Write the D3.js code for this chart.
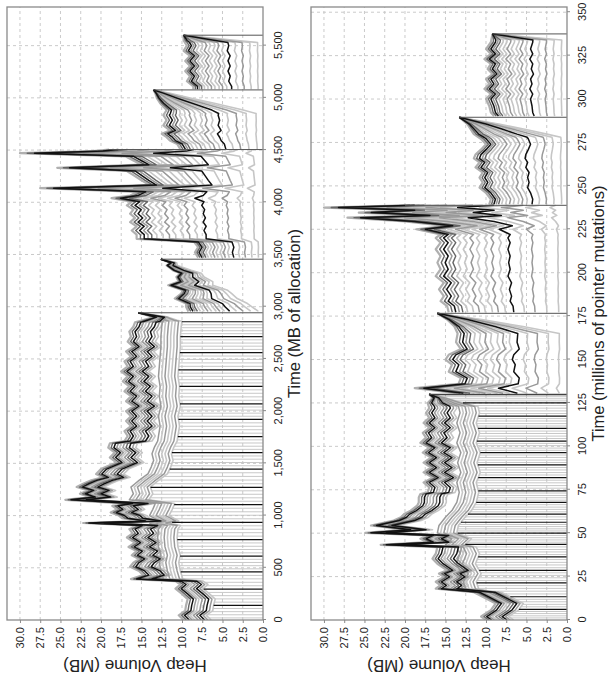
<!DOCTYPE html>
<html><head><meta charset="utf-8">
<script src="https://cdn.jsdelivr.net/npm/d3@7"></script>
<style>
html,body{margin:0;padding:0;background:#fff;}
svg{display:block;font-family:"Liberation Sans",Arial,Helvetica,sans-serif;}
</style>
</head><body>
<svg id="chart" width="608" height="682"></svg>
<script>
// ================= DATA =================
const volumeTicks = [0, 2.5, 5, 7.5, 10, 12.5, 15, 17.5, 20, 22.5, 25, 27.5, 30];
const topTimeTicks = [0, 500, 1000, 1500, 2000, 2500, 3000, 3500, 4000, 4500, 5000, 5500];
const bottomTimeTicks = [0, 25, 50, 75, 100, 125, 150, 175, 200, 225, 250, 275, 300, 325, 350];
const volumeTitle = "Heap Volume (MB)";
const topTimeTitle = "Time (MB of allocation)";
const bottomTimeTitle = "Time (millions of pointer mutations)";

// Top panel: total heap volume (upper envelope) [time, MB]
const topEnvelope = [
 [0,9.8],[45,10.4],[90,9.6],[140,9.5],[200,9.3],[250,10.0],[300,10.8],[340,10.2],[372,10.8],[392,16.3],
 [430,14.8],[470,15.3],[510,16.4],[550,16.0],[585,15.3],[620,16.2],[660,15.6],[700,16.6],[740,15.8],[790,16.8],
 [830,16.1],[870,16.5],[905,15.6],[929,22.2],[948,15.2],[975,17.4],[1000,17.8],[1030,18.8],[1060,18.0],[1093,18.6],
 [1115,16.8],[1151,24.4],[1177,21.4],[1209,22.6],[1241,21.6],[1273,23.0],[1305,22.2],[1337,21.2],[1366,19.8],[1397,20.6],
 [1445,20.0],[1508,18.1],[1556,18.9],[1603,18.3],[1651,19.1],[1692,18.9],[1714,17.1],[1762,16.7],[1809,17.1],[1857,16.3],
 [1905,16.9],[1952,16.3],[2000,16.9],[2047,16.0],[2095,16.9],[2143,16.3],[2190,17.1],[2238,16.5],[2285,17.3],[2333,16.7],
 [2380,17.5],[2428,16.7],[2476,17.1],[2523,16.3],[2571,16.9],[2618,16.0],[2666,16.7],[2713,16.3],[2761,16.5],[2809,16.0],
 [2850,15.8],[2900,13.5],[2942,15.4],
 [2955,9.2],[2999,9.5],[3030,9.5],[3078,10.9],[3126,10.1],[3157,9.9],[3205,11.7],[3240,10.4],[3284,10.7],[3320,10.2],
 [3348,11.1],[3395,11.9],[3420,11.4],[3455,12.6],
 [3470,8.0],[3520,8.4],[3570,8.0],[3620,8.5],[3650,15.6],[3690,15.6],[3730,16.2],[3770,15.6],[3810,16.4],[3850,15.8],
 [3890,16.4],[3930,16.0],[3970,16.8],[4005,16.2],[4039,18.7],[4065,16.4],[4100,15.4],[4135,27.5],[4165,14.0],[4210,15.0],
 [4260,16.0],[4300,16.8],[4330,25.4],[4360,15.0],[4400,16.0],[4440,17.0],[4470,30.0],[4490,21.0],[4505,19.0],
 [4509,10.2],[4558,10.6],[4591,11.5],[4623,11.9],[4656,12.5],[4688,11.5],[4737,12.3],[4786,11.9],[4834,12.3],[4883,11.9],
 [4948,12.7],[4997,13.1],[5045,13.3],[5076,13.5],
 [5082,8.6],[5110,8.6],[5159,9.4],[5208,9.0],[5256,9.6],[5305,9.0],[5354,9.6],[5403,9.0],[5451,9.8],[5500,9.4],
 [5549,9.8],[5600,9.8]
];
// Top panel: upper edge of the younger cohort band [time, MB]
const topFloor = [
 [372,10.0],[392,12.3],[470,12.6],[550,12.8],[620,12.6],[700,12.9],[790,13.0],[870,12.9],[905,12.6],[929,14.0],
 [948,12.8],[1000,14.0],[1060,13.6],[1115,13.3],[1151,16.5],[1209,16.0],[1273,16.3],[1337,15.3],[1400,14.2],[1464,13.8],
 [1528,13.5],[1591,13.7],[1655,13.4],[1714,13.0],[1762,12.9],[1857,12.7],[1952,12.9],[2047,12.6],[2143,12.8],[2238,12.7],
 [2333,12.9],[2428,12.8],[2523,12.7],[2618,12.6],[2713,12.6],[2809,12.5],[2870,12.4]
];
const topBlackBirths = [140,295,460,611,770,935,1104,1270,1445,1603,1756,1921,2070,2238,2396,2561,2713,2856];
const topGrayBirths = [20,50,80,110,171,202,233,264,328,361,394,427,490,520,551,581,643,675,706,738,
 803,836,869,902,969,1003,1036,1070,1137,1170,1204,1237,1305,1340,1375,1410,1477,1508,1540,1571,
 1634,1664,1695,1725,1789,1822,1855,1888,1951,1981,2010,2040,2104,2137,2171,2204,2270,2301,2333,2364,
 2429,2462,2495,2528,2591,2622,2652,2683,2742,2770,2799,2827];
// collection phases: start, end, time where cohorts begin to merge into the total
const topPhaseStart = [0, 2955, 3470, 4509, 5082];
const topPhaseEnd   = [2942, 3455, 4505, 5076, 5600];
const topPhaseMerge = [2860, 2960, null, 4850, 5530];

// Bottom panel
const bottomEnvelope = [
 [0,10.0],[2,10.6],[5.7,9.4],[9.5,8.8],[13.4,10.4],[16,11.5],[18,16.2],[20,15.6],[22,16.2],[24.8,15.2],
 [26.7,15.8],[28.6,14.8],[32.4,16.0],[35.3,16.6],[38.2,16.2],[42,16.0],[43.3,23.0],[44.8,17.2],[46.8,18.1],[48.7,17.2],
 [50.2,24.9],[52,20.0],[54.4,24.2],[57.3,21.4],[59.2,20.5],[61,20.1],[63,19.3],[65.8,18.5],[67.7,18.3],[70.6,18.3],
 [72.5,18.1],[73.5,17.2],[76.3,17.0],[79.2,17.7],[82,16.6],[85,17.7],[87.8,16.8],[90.6,17.7],[93.5,16.8],[96.4,17.8],
 [99.2,17.0],[102,18.1],[105,17.4],[107.8,17.8],[110.7,17.0],[113.5,17.7],[116.4,17.0],[119.3,17.4],[122,17.0],[125,17.2],
 [127.9,16.6],[130,17.0],
 [130.6,13.6],[133.5,18.8],[136,13.4],[139.3,13.1],[143,14.6],[147,14.2],[150,15.0],[152.7,14.6],[156,13.1],[160,13.7],
 [165,13.5],[169,13.9],[173,14.8],[176.6,16.0],
 [177.2,14.6],[180.8,14.8],[183.6,15.6],[186.5,15.2],[190.4,15.8],[194.2,15.2],[198,16.2],[202,15.6],[205.8,16.0],[209.6,15.6],
 [213.5,16.2],[217.3,15.6],[220,16.2],[222,15.6],[225,18.6],[227,15.0],[229.5,20.0],[231.7,27.1],[233,18.0],[234.6,25.7],
 [236,20.0],[237.5,30.0],[238.8,20.0],
 [239.4,9.6],[242.3,9.4],[246,10.0],[249,10.8],[252,10.4],[254.8,10.8],[257.7,10.4],[260.6,11.3],[263.5,10.8],[265.8,11.5],
 [268,11.3],[271,10.6],[274,10.0],[277,10.6],[279.8,11.5],[282.7,11.9],[285.6,12.3],[289.5,13.3],
 [290.2,9.0],[292.3,9.4],[296,9.6],[300,10.0],[302.9,9.4],[305.8,10.2],[308.7,9.6],[311.5,10.0],[314.4,9.2],[317.3,9.8],
 [320.2,9.4],[323,10.2],[326,9.4],[328.8,10.0],[332.7,9.4],[337.5,9.2]
];
const bottomFloor = [
 [16,11.5],[18,13.3],[22,13.6],[26.7,13.0],[32.4,13.7],[38.2,13.2],[42,13.6],[43.3,15.0],[46.8,14.2],[50.2,16.0],
 [54.4,15.8],[59.2,15.0],[63,14.2],[67.7,13.6],[73.5,13.3],[79.2,13.6],[85,13.1],[90.6,13.5],[96.4,13.1],[102,13.6],
 [107.8,13.2],[113.5,13.6],[119.3,13.2],[125,13.5],[130,13.5]
];
const bottomBlackBirths = [6.1,13.4,21.4,28.6,36.3,43.5,50.0,56.3,61.0,67.7,74.4,82.0,89.3,96.4,103.0,110.3,117.4,125.0,129.8];
const bottomGrayBirths = [1.2,2.4,3.7,4.9,7.6,9.0,10.5,11.9,15.0,16.6,18.2,19.8,22.8,24.3,25.7,27.2,30.1,31.7,33.2,34.8,
 37.7,39.2,40.6,42.1,44.8,46.1,47.4,48.7,51.3,52.5,53.8,55.0,57.9,59.4,62.3,63.7,65.0,66.4,69.0,70.4,71.7,73.1,
 75.9,77.4,79.0,80.5,83.5,84.9,86.4,87.8,90.7,92.1,93.6,95.0,97.7,99.0,100.4,101.7,104.5,105.9,107.4,108.8,
 111.7,113.1,114.6,116.0,118.9,120.4,122.0,123.5,126.2,127.4,128.6];
const bottomPhaseStart = [0, 130.6, 177.2, 239.4, 290.2];
const bottomPhaseEnd   = [130, 176.6, 238.8, 289.5, 337.5];
const bottomPhaseMerge = [123, 165, null, 278, 334];

// Cohort lines: depth below the envelope (older cohorts), below the floor (younger cohorts),
// and share of the total (cohorts in later phases)
const oldCohortDepth = [0, 0.35, 0.7, 1.05, 1.4, 1.8, 2.2, 2.6, 3.0, 3.4];
const oldCohortKind  = ["edge","dark","black","mid","light","mid","dark","black","mid","light"];
const youngCohortDepth = [0, 0.4, 0.8, 1.2, 1.6, 2.0, 2.4];
const youngCohortKind  = ["mid","light","mid","light","light","mid","light"];
const cohortShare = [1.00,0.97,0.94,0.91,0.88,0.84,0.79,0.74,0.69,0.63,0.58,0.52,0.45,0.36,0.27,0.17,0.07];
const cohortShareKind = ["edge","dark","black","mid","dark","light","light","mid","light","light","mid","light","black","light","mid","light","light"];

// ================= DRAWING =================
const svg = d3.select("#chart");
const vMax = 31.6;
const kindStyle = {
  edge:  {c:"#b0b0b0", w:2.2, r:0},
  light: {c:"#c6c6c6", w:1.6, r:1},
  mid:   {c:"#999999", w:1.5, r:2},
  dark:  {c:"#666666", w:1.4, r:3},
  black: {c:"#111111", w:1.5, r:4}
};

function drawPanel(p) {
  const len = p.bottom - p.top, depth = p.right - p.left;
  const g = svg.append("g").attr("transform", `translate(${p.left},${p.bottom}) rotate(-90)`);
  const x = d3.scaleLinear().domain([0, p.tMax]).range([0, len]);
  const y = d3.scaleLinear().domain([0, vMax]).range([depth, 0]);
  const env = d3.scaleLinear().domain(p.envelope.map(d => d[0])).range(p.envelope.map(d => d[1]));
  const flo = d3.scaleLinear().domain(p.floor.map(d => d[0])).range(p.floor.map(d => d[1])).clamp(true);
  const floorStart = p.floor[0][0];

  // grid
  const grid = g.append("g").attr("stroke", "#c4c4c4").attr("stroke-width", 0.9).attr("stroke-dasharray", "3,3");
  grid.selectAll("line.h").data(volumeTicks.filter(d => d > 0)).join("line")
    .attr("x1", 0).attr("x2", len).attr("y1", d => y(d)).attr("y2", d => y(d));
  grid.selectAll("line.v").data(p.timeTicks.filter(d => d > 0)).join("line")
    .attr("y1", 0).attr("y2", depth).attr("x1", d => x(d)).attr("x2", d => x(d));

  const clipId = "clip" + p.id;
  g.append("clipPath").attr("id", clipId).append("rect").attr("width", len).attr("height", depth);
  const plot = g.append("g").attr("clip-path", `url(#${clipId})`).attr("fill", "none")
    .attr("stroke-linejoin", "round");
  const line = d3.line().x(d => x(d[0])).y(d => y(d[1]));

  const specs = [], drops = [];
  p.phaseStart.forEach((s, i) => {
    const e = p.phaseEnd[i], m = p.phaseMerge[i];
    const w = m == null ? (() => 1) : d3.scaleLinear().domain([m, e]).range([1, 0]).clamp(true);
    let ts = p.envelope.map(d => d[0]).filter(t => t >= s && t <= e);
    if (i === 0) ts = ts.concat(p.floor.map(d => d[0]).filter(t => t >= s && t <= e));
    if (m != null) ts.push(m);
    ts.push(s, e);
    ts = Array.from(new Set(ts)).sort((a, b) => a - b);
    drops.push([[e, env(e)], [e, 0]]);
    if (i === 0) {
      oldCohortDepth.forEach((dp, k) => {
        specs.push({pts: ts.map(t => [t, env(t) - dp * w(t)]), kind: oldCohortKind[k]});
      });
      youngCohortDepth.forEach((dp, k) => {
        const pts = ts.filter(t => t >= floorStart).map(t => [t, env(t) - (env(t) - flo(t) + dp) * w(t)]);
        specs.push({pts, kind: youngCohortKind[k]});
      });
    } else {
      cohortShare.forEach((f, k) => {
        specs.push({pts: ts.map(t => [t, env(t) * (1 - (1 - f) * w(t))]), kind: cohortShareKind[k]});
      });
    }
  });

  // birth lines of new cohorts in the first phase
  const e0 = p.phaseEnd[0], m0 = p.phaseMerge[0];
  const w0 = d3.scaleLinear().domain([m0, e0]).range([1, 0]).clamp(true);
  const lowest = t => t >= floorStart
    ? env(t) - (env(t) - flo(t) + youngCohortDepth[youngCohortDepth.length - 1]) * w0(t)
    : env(t) - oldCohortDepth[oldCohortDepth.length - 1] * w0(t);
  plot.append("g").attr("stroke", "#c2c2c2").attr("stroke-width", 0.9)
    .selectAll("line").data(p.grayBirths).join("line")
    .attr("x1", d => x(d)).attr("x2", d => x(d)).attr("y1", y(0)).attr("y2", d => y(lowest(d)));

  specs.sort((a, b) => kindStyle[a.kind].r - kindStyle[b.kind].r);
  plot.selectAll("path.c").data(specs).join("path")
    .attr("d", d => line(d.pts))
    .attr("stroke", d => kindStyle[d.kind].c)
    .attr("stroke-width", d => kindStyle[d.kind].w);

  plot.append("g").attr("stroke", "#111").attr("stroke-width", 1.2)
    .selectAll("line").data(p.blackBirths).join("line")
    .attr("x1", d => x(d)).attr("x2", d => x(d)).attr("y1", y(0)).attr("y2", d => y(lowest(d)));
  plot.selectAll("path.drop").data(drops).join("path")
    .attr("d", d => line(d)).attr("stroke", "#555").attr("stroke-width", 1);

  // frame
  g.append("rect").attr("width", len).attr("height", depth).attr("fill", "none")
    .attr("stroke", "#8a8a8a").attr("stroke-width", 1.3);

  // axes
  const ax = g.append("g").attr("transform", `translate(0,${depth})`)
    .call(d3.axisBottom(x).tickValues(p.timeTicks).tickFormat(p.fmt).tickSize(3).tickPadding(8));
  const ay = g.append("g")
    .call(d3.axisLeft(y).tickValues(volumeTicks).tickFormat(d3.format(".1f")).tickSize(3).tickPadding(4));
  [ax, ay].forEach(a => {
    a.select(".domain").remove();
    a.selectAll(".tick line").attr("stroke", "#8a8a8a");
    a.selectAll(".tick text").attr("fill", "#222").style("font-size", "11px")
      .style("font-family", '"Liberation Sans",Arial,sans-serif');
  });

  g.append("text").attr("x", len / 2).attr("y", depth + 37).attr("text-anchor", "middle")
    .style("font-size", "16.5px").attr("fill", "#222").text(p.title);
  g.append("text").attr("transform", `translate(-40,${depth / 2}) rotate(-90)`).attr("text-anchor", "middle")
    .style("font-size", "17px").attr("fill", "#222").text(volumeTitle);
}

drawPanel({id: "top", left: 7, right: 263, top: 7, bottom: 620, tMax: 5870,
  envelope: topEnvelope, floor: topFloor, blackBirths: topBlackBirths, grayBirths: topGrayBirths,
  phaseStart: topPhaseStart, phaseEnd: topPhaseEnd, phaseMerge: topPhaseMerge,
  timeTicks: topTimeTicks, fmt: d3.format(","), title: topTimeTitle});
drawPanel({id: "bottom", left: 311, right: 567, top: 7, bottom: 620, tMax: 353,
  envelope: bottomEnvelope, floor: bottomFloor, blackBirths: bottomBlackBirths, grayBirths: bottomGrayBirths,
  phaseStart: bottomPhaseStart, phaseEnd: bottomPhaseEnd, phaseMerge: bottomPhaseMerge,
  timeTicks: bottomTimeTicks, fmt: d3.format("d"), title: bottomTimeTitle});
</script>
</body></html>
